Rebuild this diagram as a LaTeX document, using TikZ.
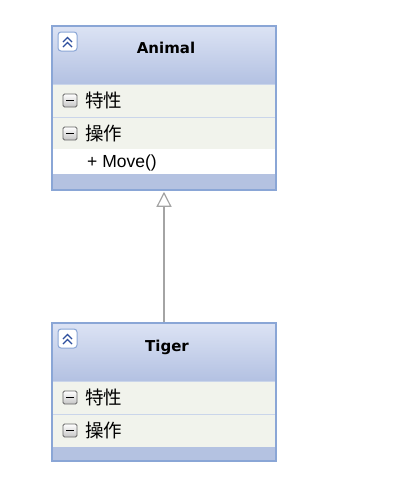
\documentclass[tikz,border=0pt]{standalone}
\usepackage{fontspec}
\setmainfont{Liberation Sans}
\newfontfamily\cjk{Noto Sans CJK SC}
\newfontfamily\titlefont{DejaVu Sans}
\usetikzlibrary{arrows.meta}
\definecolor{bordc}{HTML}{8AA6D6}
\definecolor{hdtop}{HTML}{DCE3F4}
\definecolor{hdbot}{HTML}{B3C1E2}
\definecolor{rowc}{HTML}{F1F3EC}
\definecolor{sepc}{HTML}{CAD5EA}
\definecolor{bandc}{HTML}{B4C2E1}
\definecolor{iconc}{HTML}{2E4F9E}
\definecolor{linec}{HTML}{A4A4A4}
\tikzset{
  classbox/.style={draw=bordc, line width=1.5pt, rectangle, inner sep=0pt},
  hdr/.style={top color=hdtop, bottom color=hdbot, draw=none},
  rowbg/.style={fill=rowc, draw=none},
  band/.style={fill=bandc, draw=none},
  sepline/.style={draw=sepc, line width=1pt},
  ctitle/.style={font=\titlefont\bfseries\fontsize{15}{17}\selectfont, inner sep=0pt},
  cjklabel/.style={font=\cjk\fontsize{18.5}{20}\selectfont, anchor=west, inner sep=0pt},
  member/.style={font=\fontsize{17.5}{19}\selectfont, anchor=west, inner sep=0pt},
  colicon/.style={draw=bordc, fill=white, rounded corners=3pt, line width=1pt},
  minusicon/.style={draw=gray!80!black, top color=white, bottom color=gray!45, rounded corners=1.5pt, line width=0.8pt},
  chev/.style={draw=iconc, line width=1.3pt},
  inherit/.style={draw=linec, line width=2.2pt, -{Triangle[open, width=15pt, length=15pt, line width=1.2pt]}, shorten >=0pt}
}
\begin{document}
\begin{tikzpicture}[x=1pt, y=-1pt]
\useasboundingbox (0,0) rectangle (414,490);
% ---------- Animal ----------
\fill[hdr] (52,26) rectangle (276,84);
\fill[rowbg] (52,84) rectangle (276,149);
\fill[white] (52,149) rectangle (276,174);
\fill[band] (52,174) rectangle (276,190);
\draw[sepline] (52,84) -- (276,84);
\draw[sepline] (52,117) -- (276,117);
\node[classbox, minimum width=224pt, minimum height=164pt] (animal) at (164,108) {};
\node[ctitle] (animaltitle) at (166,48) {Animal};
\draw[colicon] (58,32) rectangle (77,51);
\draw[chev] (63,42) -- (67.5,37.5) -- (72,42);
\draw[chev] (63,47) -- (67.5,42.5) -- (72,47);
\draw[minusicon] (63,94) rectangle (77,107);
\draw[line width=1.2pt] (66,100.5) -- (74,100.5);
\node[cjklabel] (aattr) at (85,100) {特性};
\draw[minusicon] (63,127) rectangle (77,140);
\draw[line width=1.2pt] (66,133.5) -- (74,133.5);
\node[cjklabel] (aops) at (85,133) {操作};
\node[member] (amove) at (87,163) {+ Move()};
% ---------- Tiger ----------
\fill[hdr] (52,323) rectangle (276,381);
\fill[rowbg] (52,381) rectangle (276,447);
\fill[band] (52,447) rectangle (276,461);
\draw[sepline] (52,381) -- (276,381);
\draw[sepline] (52,414) -- (276,414);
\node[classbox, minimum width=224pt, minimum height=138pt] (tiger) at (164,392) {};
\node[ctitle] (tigertitle) at (167,347) {Tiger};
\draw[colicon] (58,329) rectangle (77,348);
\draw[chev] (63,339) -- (67.5,334.5) -- (72,339);
\draw[chev] (63,344) -- (67.5,339.5) -- (72,344);
\draw[minusicon] (63,391) rectangle (77,404);
\draw[line width=1.2pt] (66,397.5) -- (74,397.5);
\node[cjklabel] (tattr) at (85,397) {特性};
\draw[minusicon] (63,424) rectangle (77,437);
\draw[line width=1.2pt] (66,430.5) -- (74,430.5);
\node[cjklabel] (tops) at (85,430) {操作};
% ---------- Inheritance ----------
\draw[inherit] (tiger.north) -- ([yshift=-1pt]animal.south);
\end{tikzpicture}
\end{document}
